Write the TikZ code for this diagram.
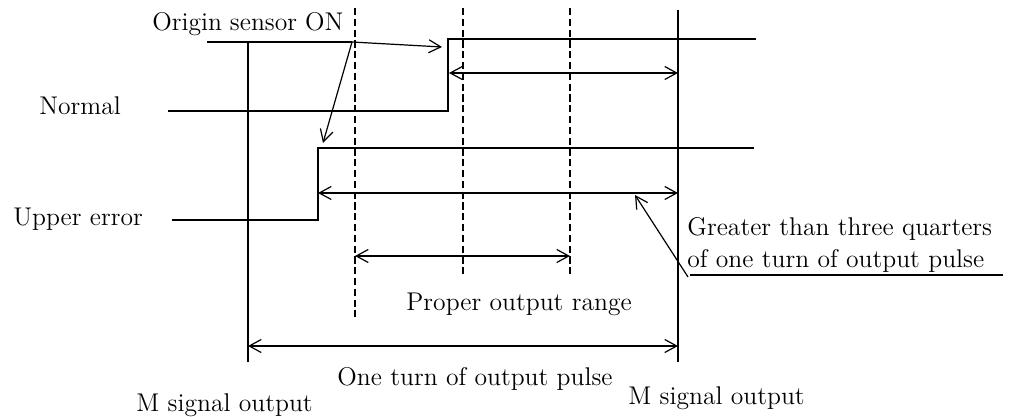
\documentclass[tikz,border=0pt]{standalone}
\usetikzlibrary{arrows.meta}
\begin{document}
\begin{tikzpicture}[x=0.5pt,y=-0.5pt,
  sig/.style={line width=0.65pt},
  dsh/.style={line width=0.6pt,dash pattern=on 3.6pt off 1.8pt},
  arr/.style={line width=0.6pt,-{Straight Barb[length=6pt,width=6.5pt,line width=0.6pt]}},
  darr/.style={line width=0.6pt,{Straight Barb[length=6pt,width=6.5pt,line width=0.6pt]}-{Straight Barb[length=6pt,width=6.5pt,line width=0.6pt]}},
  lbl/.style={anchor=base west,inner sep=0pt,font=\fontsize{12.8}{15}\selectfont}]
\useasboundingbox (0,0) rectangle (1011,417);
% coordinates
\coordinate (Ltop) at (248,41);
\coordinate (Lbot) at (248,362);
\coordinate (Rtop) at (678,10);
\coordinate (Rbot) at (678,362);
\coordinate (D1t) at (355,8);  \coordinate (D1b) at (355,317);
\coordinate (D2t) at (463,8);  \coordinate (D2b) at (463,275);
\coordinate (D3t) at (570,8);  \coordinate (D3b) at (570,275);
\coordinate (S0) at (207,42);  \coordinate (S1) at (352,42);
\coordinate (N0) at (168,111); \coordinate (N1) at (448,111);
\coordinate (N2) at (448,39);  \coordinate (N3) at (756,39);
\coordinate (U0) at (172,220); \coordinate (U1) at (318,220);
\coordinate (U2) at (318,148); \coordinate (U3) at (754,148);
\coordinate (A1) at (442,47);  \coordinate (A2) at (323,143);
\coordinate (NA0) at (449,73); \coordinate (NA1) at (678,73);
\coordinate (UA0) at (318,193); \coordinate (UA1) at (678,193);
\coordinate (PA0) at (355,256); \coordinate (PA1) at (570,256);
\coordinate (OA0) at (248,346); \coordinate (OA1) at (678,346);
\coordinate (G0) at (688,277); \coordinate (G1) at (635,195);
\coordinate (GU0) at (690,275); \coordinate (GU1) at (1003,275);
% verticals
\draw[sig] (Ltop) -- (Lbot);
\draw[sig] (Rtop) -- (Rbot);
\draw[dsh] (D1t) -- (D1b);
\draw[dsh] (D2t) -- (D2b);
\draw[dsh] (D3t) -- (D3b);
% signals
\draw[sig] (S0) -- (S1);
\draw[sig] (N0) -- (N1) -- (N2) -- (N3);
\draw[sig] (U0) -- (U1) -- (U2) -- (U3);
% arrows
\draw[arr] (S1) -- (A1);
\draw[arr] (S1) -- (A2);
\draw[darr] (NA0) -- (NA1);
\draw[darr] (UA0) -- (UA1);
\draw[darr] (PA0) -- (PA1);
\draw[darr] (OA0) -- (OA1);
\draw[arr] (G0) -- (G1);
\draw[sig] (GU0) -- (GU1);
% labels
\node[lbl] (origin) at (152,31) {\makebox[95.5pt][s]{Origin sensor ON}};
\node[lbl] (normal) at (39,115) {Normal};
\node[lbl] (upper) at (13,225) {Upper error};
\node[lbl] (g1) at (687,235) {Greater than three quarters};
\node[lbl] (g2) at (687,267) {of one turn of output pulse};
\node[lbl] (proper) at (406,310) {Proper output range};
\node[lbl] (oneturn) at (337,385) {One turn of output pulse};
\node[lbl] (mleft) at (136,411) {M signal output};
\node[lbl] (mright) at (628,404) {M signal output};
\end{tikzpicture}
\end{document}
